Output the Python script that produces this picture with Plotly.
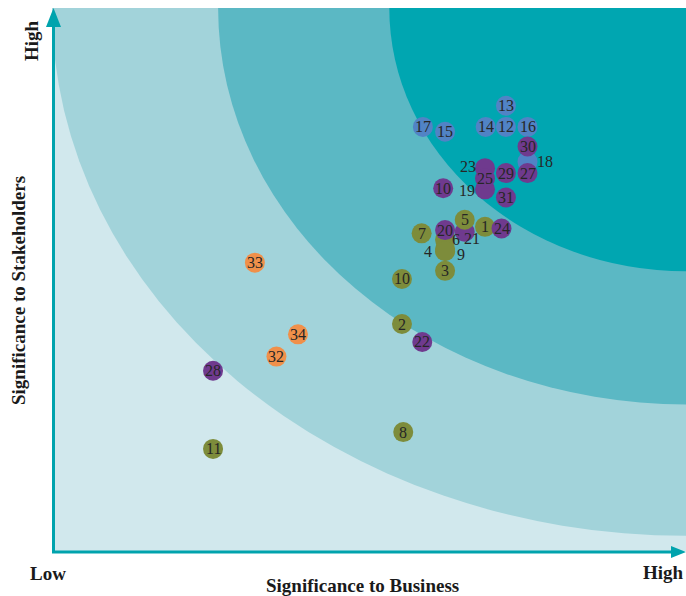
import plotly.graph_objects as go

# ---- data -------------------------------------------------------------
labels = ["13", "17", "15", "14", "12", "16", "18",
          "6", "4", "9", "3", "7", "10", "2", "8", "11",
          "20", "21", "23", "19", "25", "29", "27", "30", "31", "10", "22", "28",
          "5", "1",
          "24",
          "33", "34", "32"]
groups = ["blue"] * 7 + ["olive"] * 9 + ["purple"] * 12 + ["olive"] * 2 + ["purple"] + ["orange"] * 3
business = [7.16, 5.85, 6.20, 6.84, 7.16, 7.50, 7.50,
            6.20, 6.20, 6.20, 6.20, 5.83, 5.52, 5.52, 5.54, 2.54,
            6.20, 6.51, 6.83, 6.83, 6.83, 7.16, 7.50, 7.50, 7.16, 6.17, 5.84, 2.54,
            6.51, 6.83,
            7.09,
            3.20, 3.88, 3.54]
stakeholders = [8.20, 7.81, 7.72, 7.81, 7.81, 7.81, 7.17,
                5.73, 5.56, 5.52, 5.16, 5.85, 5.01, 4.18, 2.19, 1.88,
                5.91, 5.88, 7.05, 6.66, 6.86, 6.96, 6.96, 7.45, 6.51, 6.68, 3.85, 3.32,
                6.10, 5.97,
                5.94,
                5.31, 3.99, 3.58]

# ---- styles -----------------------------------------------------------
group_colors = {"olive": "#7d8c3b", "purple": "#6f3a8e", "blue": "#5183c5", "orange": "#f0904a"}
label_shift = {"23": (-17, 2), "19": (-18, -1), "18": (17, 0), "6": (11, 0),
               "21": (7, -7), "4": (-17, -2), "9": (16, -3)}
zone_colors = ["#a2d3da", "#5bb8c4", "#00a6b1"]
zone_radii = [(10.0, 9.72), (7.38, 7.30), (4.68, 4.85)]
bg_color = "#d1e8ed"
axis_color = "#00a3ad"
serif = "Liberation Serif, Times New Roman, serif"

fig = go.Figure()

fig.add_trace(go.Scatter(
    x=business, y=stakeholders, mode="markers",
    marker=dict(size=20, color=[group_colors[g] for g in groups], line=dict(width=0), opacity=1),
    hoverinfo="skip", showlegend=False))

shapes = []
for (rx, ry), col in zip(zone_radii, zone_colors):
    shapes.append(dict(type="circle", xref="x", yref="y", x0=10 - rx, x1=10 + rx,
                       y0=10 - ry, y1=10 + ry, fillcolor=col, line=dict(width=0), layer="below"))

# axis arrows (paper coords)
W, H = 634.0, 543.0
shapes.append(dict(type="line", xref="paper", yref="paper", x0=1.5 / W, x1=1.5 / W, y0=-1 / H, y1=0.97,
                   line=dict(color=axis_color, width=3)))
shapes.append(dict(type="path", xref="paper", yref="paper",
                   path=f"M {-6/W} {0.965} L {1.5/W} {1.0} L {9/W} {0.965} Z",
                   fillcolor=axis_color, line=dict(width=0)))
shapes.append(dict(type="line", xref="paper", yref="paper", x0=0, x1=0.98, y0=-1 / H, y1=-1 / H,
                   line=dict(color=axis_color, width=3)))
shapes.append(dict(type="path", xref="paper", yref="paper",
                   path=f"M {1 - 15/W} {5/H} L {1.0} {-1/H} L {1 - 15/W} {-7/H} Z",
                   fillcolor=axis_color, line=dict(width=0)))

annotations = []
for lab, x, y in zip(labels, business, stakeholders):
    dx, dy = label_shift.get(lab, (0, 0))
    annotations.append(dict(x=x, y=y, xref="x", yref="y", text=lab, showarrow=False,
                            xshift=dx, yshift=dy, xanchor="center", yanchor="middle",
                            font=dict(family=serif, size=16, color="#262626")))

tf = dict(family=serif, size=19, color="#1a1a1a")
annotations += [
    dict(x=-20 / W, y=510 / H, xref="paper", yref="paper", text="<b>High</b>", textangle=-90,
         showarrow=False, font=tf, xanchor="center", yanchor="middle"),
    dict(x=-34 / W, y=260 / H, xref="paper", yref="paper", text="<b>Significance to Stakeholders</b>",
         textangle=-90, showarrow=False, font=tf, xanchor="center", yanchor="middle"),
    dict(x=-4 / W, y=-22 / H, xref="paper", yref="paper", text="<b>Low</b>", showarrow=False, font=tf,
         xanchor="center", yanchor="middle"),
    dict(x=1.0, y=-21 / H, xref="paper", yref="paper", text="<b>High</b>", xanchor="right",
         yanchor="middle", showarrow=False, font=tf),
    dict(x=310 / W, y=-34 / H, xref="paper", yref="paper", text="<b>Significance to Business</b>",
         showarrow=False, font=tf, xanchor="center", yanchor="middle"),
]

fig.update_layout(
    width=686, height=596,
    margin=dict(l=52, r=0, t=8, b=45),
    paper_bgcolor="white", plot_bgcolor=bg_color,
    xaxis=dict(range=[0, 10], showgrid=False, zeroline=False, showticklabels=False, showline=False,
               fixedrange=True),
    yaxis=dict(range=[0, 10], showgrid=False, zeroline=False, showticklabels=False, showline=False,
               fixedrange=True),
    shapes=shapes, annotations=annotations, showlegend=False,
)

fig.write_html("out.html")
